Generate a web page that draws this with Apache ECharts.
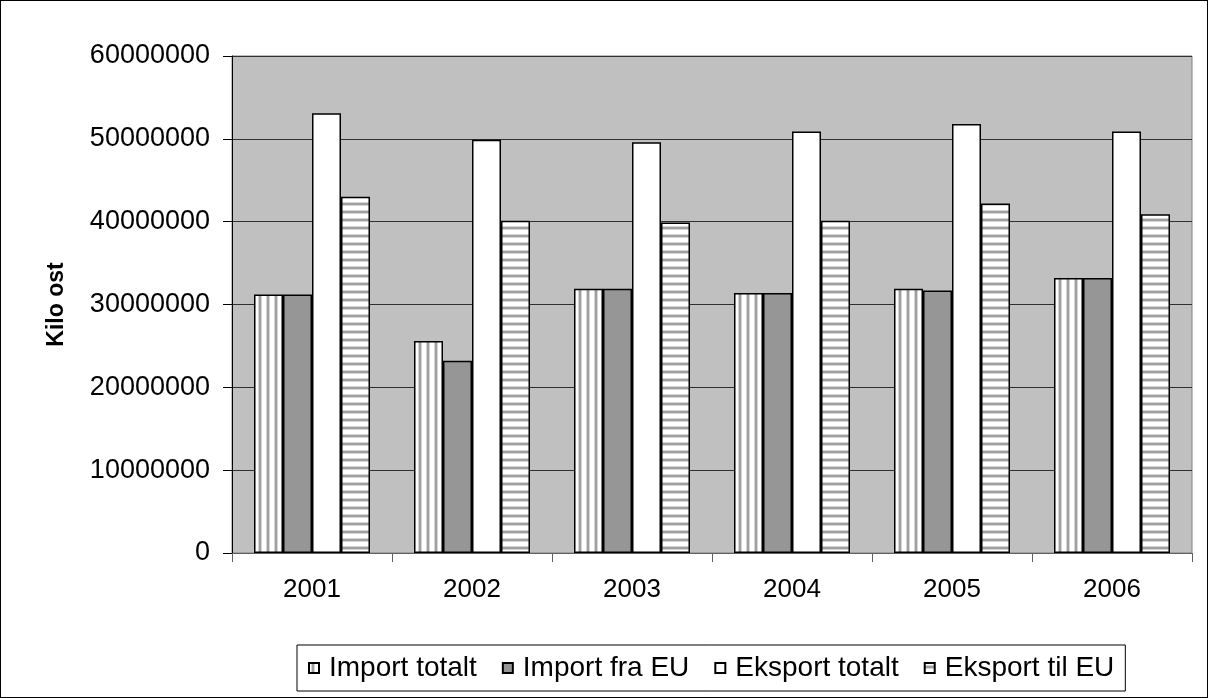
<!DOCTYPE html>
<html>
<head>
<meta charset="utf-8">
<script src="https://cdn.jsdelivr.net/npm/echarts@6/dist/echarts.min.js"></script>
<style>
  html, body { margin: 0; padding: 0; background: #fff; }
  #main { width: 1208px; height: 698px; position: absolute; left: 0; top: 0; }
  #frame { position: absolute; left: 0; top: 0; width: 1206px; height: 696px; border: 1px solid #000; pointer-events: none; }
</style>
</head>
<body>
<div id="main"></div>
<div id="frame"></div>
<script>
// data
var years = ["2001", "2002", "2003", "2004", "2005", "2006"];
var importTotalt = [31200000, 25600000, 31900000, 31400000, 31900000, 33200000];
var importEU = [31200000, 23200000, 31900000, 31400000, 31700000, 33200000];
var eksportTotalt = [53100000, 49900000, 49600000, 50900000, 51800000, 50900000];
var eksportEU = [43000000, 40100000, 39900000, 40100000, 42200000, 40900000];
var seriesNames = ["Import totalt", "Import fra EU", "Eksport totalt", "Eksport til EU"];

// stripe patterns
function stripes(vertical) {
  var c = document.createElement("canvas");
  c.width = 8;
  c.height = 8;
  var ctx = c.getContext("2d");
  ctx.fillStyle = "#ffffff";
  ctx.fillRect(0, 0, 8, 8);
  if (vertical) {
    ctx.fillStyle = "#d4d4d4";
    ctx.fillRect(2, 0, 4, 8);
    ctx.fillStyle = "#a0a0a0";
    ctx.fillRect(3, 0, 2, 8);
  } else {
    ctx.fillStyle = "#d4d4d4";
    ctx.fillRect(0, 2, 8, 4);
    ctx.fillStyle = "#a0a0a0";
    ctx.fillRect(0, 3, 8, 2);
  }
  return { image: c, repeat: "repeat" };
}

var font = "Arial, 'Liberation Sans', sans-serif";
var myChart = echarts.init(document.getElementById("main"));

function bar(name, data, color) {
  return {
    name: name,
    type: "bar",
    data: data,
    barGap: 0,
    barCategoryGap: "27.5%",
    itemStyle: {
      color: color,
      borderColor: "#000",
      borderWidth: 1.5
    }
  };
}

myChart.setOption({
  animation: false,
  backgroundColor: "#ffffff",
  textStyle: { fontFamily: font },
  grid: {
    left: 232,
    right: 16,
    top: 56,
    bottom: 145,
    show: true,
    backgroundColor: "#c0c0c0",
    borderColor: "#808080",
    borderWidth: 1
  },
  legend: {
    left: 297,
    top: 645,
    data: seriesNames,
    icon: "rect",
    itemWidth: 10,
    itemHeight: 10,
    itemGap: 25,
    padding: [7, 11, 7, 11],
    borderColor: "#000",
    borderWidth: 1,
    textStyle: {
      fontSize: 28,
      lineHeight: 32,
      color: "#000",
      fontFamily: font,
      padding: [0, 0, 0, 5]
    }
  },
  xAxis: {
    type: "category",
    data: years,
    axisLine: { lineStyle: { color: "#606060", width: 1 } },
    axisTick: { show: true, length: 9, lineStyle: { color: "#606060" } },
    axisLabel: { fontSize: 26, color: "#000", margin: 24, fontFamily: font }
  },
  yAxis: {
    type: "value",
    min: 0,
    max: 60000000,
    interval: 10000000,
    name: "Kilo ost",
    nameLocation: "middle",
    nameRotate: 90,
    nameGap: 164,
    nameTextStyle: { fontSize: 23, fontWeight: "bold", color: "#000", fontFamily: font },
    axisLine: { show: true, lineStyle: { color: "#000", width: 1 } },
    axisTick: { show: true, length: 9, lineStyle: { color: "#000" } },
    axisLabel: {
      fontSize: 27,
      color: "#000",
      margin: 22,
      fontFamily: font,
      formatter: function (value) {
        return String(value);
      }
    },
    splitLine: { lineStyle: { color: "#303030", width: 1 } }
  },
  series: [
    bar(seriesNames[0], importTotalt, stripes(true)),
    bar(seriesNames[1], importEU, "#969696"),
    bar(seriesNames[2], eksportTotalt, "#ffffff"),
    bar(seriesNames[3], eksportEU, stripes(false))
  ]
});
</script>
</body>
</html>
